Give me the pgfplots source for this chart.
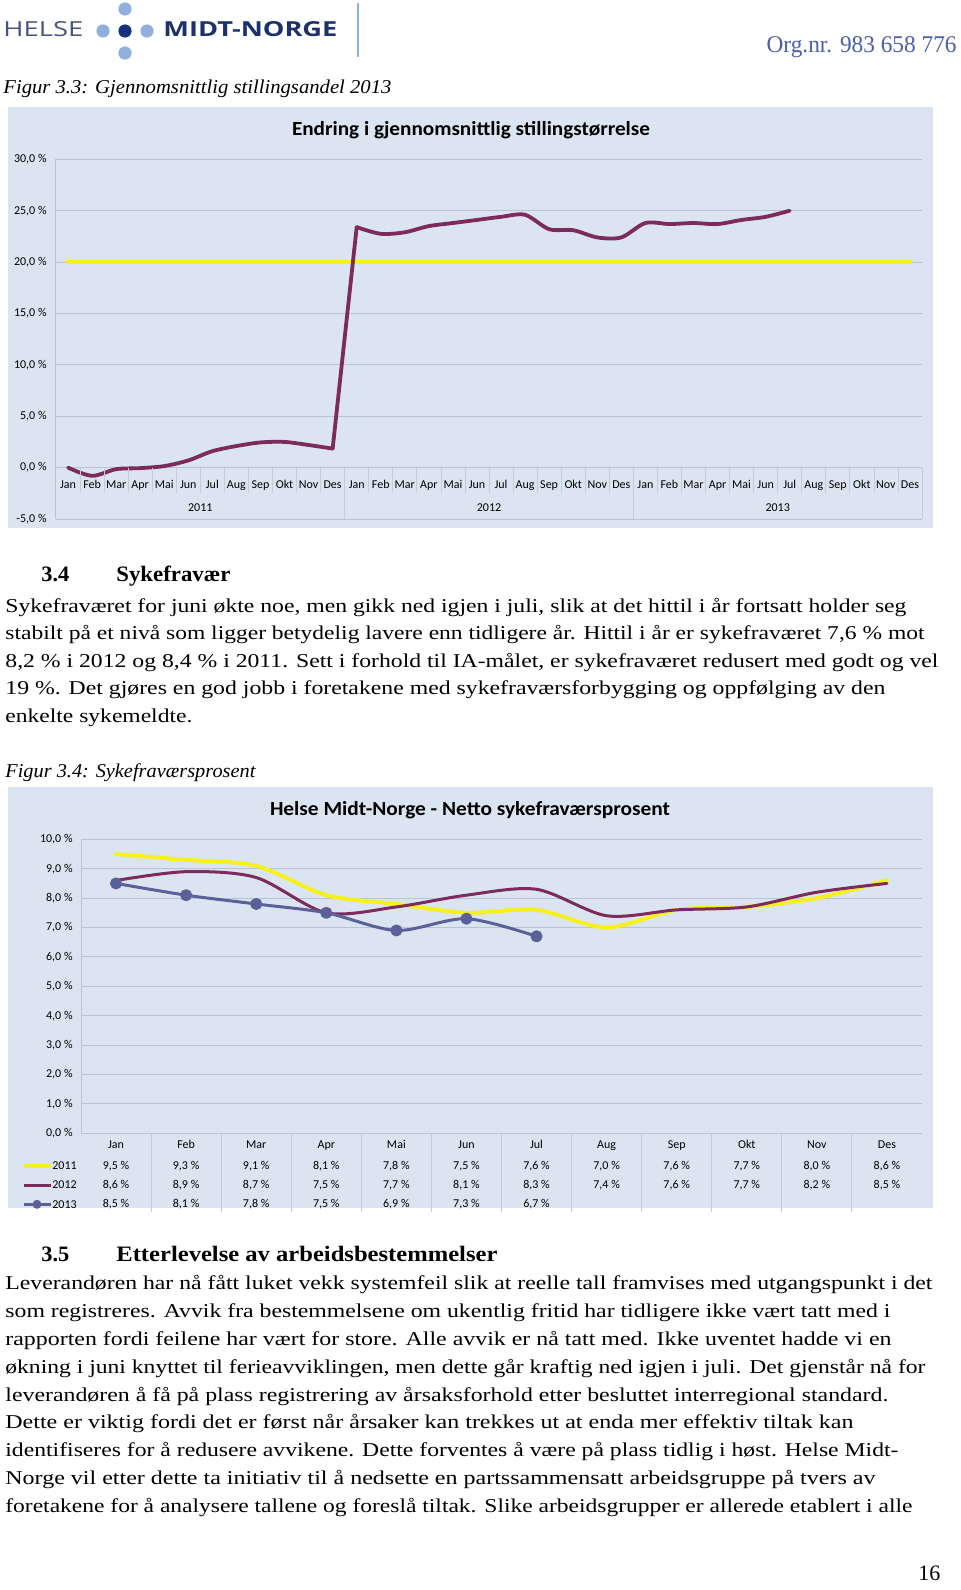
\documentclass[border=0pt]{standalone}
\usepackage{pgfplots}
\pgfplotsset{compat=1.18}
\usepackage{graphicx}
\usepackage{fontspec}
\setmainfont{Liberation Serif}
\newfontfamily\calfont{Carlito}
\newfontfamily\logofont{Open Sans}

\definecolor{bg}{RGB}{219,229,241}
\definecolor{gridc}{RGB}{186,195,210}
\definecolor{sepc}{RGB}{196,204,218}
\definecolor{yel}{RGB}{245,240,30}
\definecolor{pur}{RGB}{125,42,92}
\definecolor{blu}{RGB}{92,96,152}
\definecolor{navy}{RGB}{28,48,110}
\definecolor{navydot}{RGB}{20,50,125}
\definecolor{slate}{RGB}{70,85,125}
\definecolor{lblue}{RGB}{145,175,220}
\definecolor{orgblue}{RGB}{75,95,170}

\newcommand{\fitw}[2]{\resizebox{#1}{\height}{#2}}
\newcommand{\bline}[3]{\node[anchor=base west,inner sep=0pt] at (5,#1) {\resizebox{#2pt}{\height}{\fontsize{9.8}{11}\selectfont #3}};}
\newcommand{\sm}{\calfont\fontsize{6}{7}\selectfont}

\begin{document}
\begin{tikzpicture}
\begin{scope}[x=0.5pt,y=-0.5pt]
\fill[white] (0,0) rectangle (960,1590);
% logo
\node[anchor=south west,inner sep=0pt,text=slate] at (3,37) {\resizebox{40pt}{7.5pt}{\logofont HELSE}};
\fill[lblue] (125,9) circle[radius=3.3pt];
\fill[lblue] (103,31) circle[radius=3.3pt];
\fill[navydot] (125,31) circle[radius=3.3pt];
\fill[lblue] (147,31) circle[radius=3.3pt];
\fill[lblue] (125,53) circle[radius=3.3pt];
\node[anchor=south west,inner sep=0pt,text=navy] at (163,37) {\resizebox{87pt}{7.5pt}{\logofont\bfseries MIDT-NORGE}};
\draw[lblue,line width=0.9pt] (358,3) -- (358,57);
\node[anchor=base east,inner sep=0pt,text=orgblue] at (957,52) {\fitw{95pt}{\fontsize{12}{12}\selectfont Org.nr. 983 658 776}};
% caption 3.3
\node[anchor=base west,inner sep=0pt] at (3,93) {\fitw{194pt}{\itshape\fontsize{9.8}{11}\selectfont Figur 3.3: Gjennomsnittlig stillingsandel 2013}};
% chart 1 background
\fill[bg] (8,107) rectangle (933,528);
\node[inner sep=0pt] at (471,130) {\fitw{179pt}{\calfont\bfseries\fontsize{10}{10}\selectfont Endring i gjennomsnittlig stillingstørrelse}};
% chart 2 background
\fill[bg] (8,787) rectangle (933,1208);
\node[inner sep=0pt] at (470,810) {\fitw{200pt}{\calfont\bfseries\fontsize{10}{10}\selectfont Helse Midt-Norge - Netto sykefraværsprosent}};
\end{scope}

% ---------- chart 1 ----------
\begin{axis}[
  at={(28pt,-259.5pt)}, anchor=south west,
  scale only axis, width=433pt, height=179.85pt,
  xmin=-0.5, xmax=35.5, ymin=-5, ymax=30,
  axis y line*=left, axis x line*=bottom,
  axis line style={gridc, line width=0.5pt},
  ymajorgrids, grid style={gridc, line width=0.5pt},
  ytick={-5,0,5,10,15,20,25,30},
  yticklabels={{-5,0 \%},{0,0 \%},{5,0 \%},{10,0 \%},{15,0 \%},{20,0 \%},{25,0 \%},{30,0 \%}},
  ytick style={draw=none}, xtick style={draw=none},
  yticklabel style={font=\sm, anchor=east, inner sep=0pt, xshift=-4.5pt},
  xtick={0,...,35},
  xticklabels={Jan,Feb,Mar,Apr,Mai,Jun,Jul,Aug,Sep,Okt,Nov,Des,Jan,Feb,Mar,Apr,Mai,Jun,Jul,Aug,Sep,Okt,Nov,Des,Jan,Feb,Mar,Apr,Mai,Jun,Jul,Aug,Sep,Okt,Nov,Des},
  xticklabel style={font=\sm, anchor=base, inner sep=0pt, yshift=15.5pt},
  every axis plot/.append style={line join=round, line cap=round},
]
\addplot[yel, line width=2pt] coordinates {
(0,20) (1,20) (2,20) (3,20) (4,20) (5,20) (6,20) (7,20) (8,20) (9,20) (10,20) (11,20)
(12,20) (13,20) (14,20) (15,20) (16,20) (17,20) (18,20) (19,20) (20,20) (21,20) (22,20) (23,20)
(24,20) (25,20) (26,20) (27,20) (28,20) (29,20) (30,20) (31,20) (32,20) (33,20) (34,20) (35,20)};
\addplot[pur, line width=1.9pt, smooth] coordinates {
(0,0.0) (1,-0.8) (2,-0.15) (3,-0.05) (4,0.15) (5,0.7) (6,1.6) (7,2.1) (8,2.45) (9,2.5) (10,2.2) (11,1.85)};
\addplot[pur, line width=1.9pt] coordinates {(11,1.85) (12,23.4)};
\addplot[pur, line width=1.9pt, smooth] coordinates {
(12,23.4) (13,22.75) (14,22.9) (15,23.5) (16,23.8) (17,24.1) (18,24.4) (19,24.6) (20,23.2) (21,23.1) (22,22.4) (23,22.4)
(24,23.8) (25,23.7) (26,23.8) (27,23.7) (28,24.1) (29,24.4) (30,25.0)};
\end{axis}

% ---------- chart 2 ----------
\begin{axis}[
  at={(40.5pt,-566.65pt)}, anchor=south west,
  scale only axis, width=420.5pt, height=147pt,
  xmin=-0.5, xmax=11.5, ymin=0, ymax=10,
  axis y line*=left, axis x line*=bottom,
  axis line style={gridc, line width=0.5pt},
  ymajorgrids, grid style={gridc, line width=0.5pt},
  ytick={0,1,2,3,4,5,6,7,8,9,10},
  yticklabels={{0,0 \%},{1,0 \%},{2,0 \%},{3,0 \%},{4,0 \%},{5,0 \%},{6,0 \%},{7,0 \%},{8,0 \%},{9,0 \%},{10,0 \%}},
  ytick style={draw=none}, xtick style={draw=none},
  yticklabel style={font=\sm, anchor=east, inner sep=0pt, xshift=-4pt},
  xtick={0,...,11},
  xticklabels={Jan,Feb,Mar,Apr,Mai,Jun,Jul,Aug,Sep,Okt,Nov,Des},
  xticklabel style={font=\sm, anchor=base, inner sep=0pt, yshift=-7.4pt},
  every axis plot/.append style={line join=round, line cap=round},
]
\addplot[yel, line width=2pt, smooth] coordinates {
(0,9.5) (1,9.3) (2,9.1) (3,8.1) (4,7.8) (5,7.5) (6,7.6) (7,7.0) (8,7.6) (9,7.7) (10,8.0) (11,8.6)};
\addplot[pur, line width=1.5pt, smooth] coordinates {
(0,8.6) (1,8.9) (2,8.7) (3,7.5) (4,7.7) (5,8.1) (6,8.3) (7,7.4) (8,7.6) (9,7.7) (10,8.2) (11,8.5)};
\addplot[blu, line width=1.5pt, smooth, mark=*, mark size=2.25pt, mark options={fill=blu, draw=blu}] coordinates {
(0,8.5) (1,8.1) (2,7.8) (3,7.5) (4,6.9) (5,7.3) (6,6.7)};
\end{axis}

\begin{scope}[x=0.5pt,y=-0.5pt]
% chart 1 category separators and years
\foreach \k in {1,...,11,13,14,...,23,25,26,...,35}
  \draw[sepc, line width=0.4pt] (56+\k*24.056,467.7) -- (56+\k*24.056,493);
\foreach \k in {12,24,36}
  \draw[sepc, line width=0.4pt] (56+\k*24.056,467.7) -- (56+\k*24.056,519);
\node[font=\sm] at (200.3,508) {2011};
\node[font=\sm] at (489,508) {2012};
\node[font=\sm] at (777.7,508) {2013};
% chart 2 table
\foreach \k in {1,...,11}
  \draw[sepc, line width=0.4pt] (81+\k*70.08,1133.3) -- (81+\k*70.08,1212);
\foreach \v/\i in {{9,5}/0,{9,3}/1,{9,1}/2,{8,1}/3,{7,8}/4,{7,5}/5,{7,6}/6,{7,0}/7,{7,6}/8,{7,7}/9,{8,0}/10,{8,6}/11}
  \node[font=\sm, inner sep=0pt] at (116.04+\i*70.08,1166) {\v~\%};
\foreach \v/\i in {{8,6}/0,{8,9}/1,{8,7}/2,{7,5}/3,{7,7}/4,{8,1}/5,{8,3}/6,{7,4}/7,{7,6}/8,{7,7}/9,{8,2}/10,{8,5}/11}
  \node[font=\sm, inner sep=0pt] at (116.04+\i*70.08,1185) {\v~\%};
\foreach \v/\i in {{8,5}/0,{8,1}/1,{7,8}/2,{7,5}/3,{6,9}/4,{7,3}/5,{6,7}/6}
  \node[font=\sm, inner sep=0pt] at (116.04+\i*70.08,1204.3) {\v~\%};
\draw[yel, line width=2pt] (24,1166) -- (51,1166);
\draw[pur, line width=1.5pt] (24,1185) -- (51,1185);
\draw[blu, line width=1.5pt] (24,1204.3) -- (51,1204.3);
\fill[blu] (37,1204.3) circle[radius=2.25pt];
\node[font=\sm, anchor=west, inner sep=0pt] at (52,1166) {2011};
\node[font=\sm, anchor=west, inner sep=0pt] at (52,1185) {2012};
\node[font=\sm, anchor=west, inner sep=0pt] at (52,1204.3) {2013};

% section 3.4
\node[anchor=base west,inner sep=0pt] at (41,581) {\fitw{14pt}{\bfseries\fontsize{11}{12}\selectfont 3.4}};
\node[anchor=base west,inner sep=0pt] at (116,581) {\fitw{57pt}{\bfseries\fontsize{11}{12}\selectfont Sykefravær}};
\bline{612.5}{450.5}{Sykefraværet for juni økte noe, men gikk ned igjen i juli, slik at det hittil i år fortsatt holder seg}
\bline{639.9}{459.5}{stabilt på et nivå som ligger betydelig lavere enn tidligere år. Hittil i år er sykefraværet 7,6 \% mot}
\bline{667.3}{466.5}{8,2 \% i 2012 og 8,4 \% i 2011. Sett i forhold til IA-målet, er sykefraværet redusert med godt og vel}
\bline{694.7}{440}{19 \%. Det gjøres en god jobb i foretakene med sykefraværsforbygging og oppfølging av den}
\bline{722}{93.5}{enkelte sykemeldte.}
\node[anchor=base west,inner sep=0pt] at (5,777) {\fitw{125pt}{\itshape\fontsize{9.8}{11}\selectfont Figur 3.4: Sykefraværsprosent}};

% section 3.5
\node[anchor=base west,inner sep=0pt] at (41,1261) {\fitw{14pt}{\bfseries\fontsize{11}{12}\selectfont 3.5}};
\node[anchor=base west,inner sep=0pt] at (116,1261) {\fitw{190.5pt}{\bfseries\fontsize{11}{12}\selectfont Etterlevelse av arbeidsbestemmelser}};
\bline{1289}{463.5}{Leverandøren har nå fått luket vekk systemfeil slik at reelle tall framvises med utgangspunkt i det}
\bline{1317}{442.5}{som registreres. Avvik fra bestemmelsene om ukentlig fritid har tidligere ikke vært tatt med i}
\bline{1345}{443}{rapporten fordi feilene har vært for store. Alle avvik er nå tatt med. Ikke uventet hadde vi en}
\bline{1373}{460}{økning i juni knyttet til ferieavviklingen, men dette går kraftig ned igjen i juli. Det gjenstår nå for}
\bline{1401}{441.5}{leverandøren å få på plass registrering av årsaksforhold etter besluttet interregional standard.}
\bline{1428}{424}{Dette er viktig fordi det er først når årsaker kan trekkes ut at enda mer effektiv tiltak kan}
\bline{1456}{446.5}{identifiseres for å redusere avvikene. Dette forventes å være på plass tidlig i høst. Helse Midt-}
\bline{1484}{435}{Norge vil etter dette ta initiativ til å nedsette en partssammensatt arbeidsgruppe på tvers av}
\bline{1512}{453.5}{foretakene for å analysere tallene og foreslå tiltak. Slike arbeidsgrupper er allerede etablert i alle}
\node[anchor=base west,inner sep=0pt] at (918,1580) {\fontsize{11}{12}\selectfont 16};
\end{scope}
\end{tikzpicture}
\end{document}
